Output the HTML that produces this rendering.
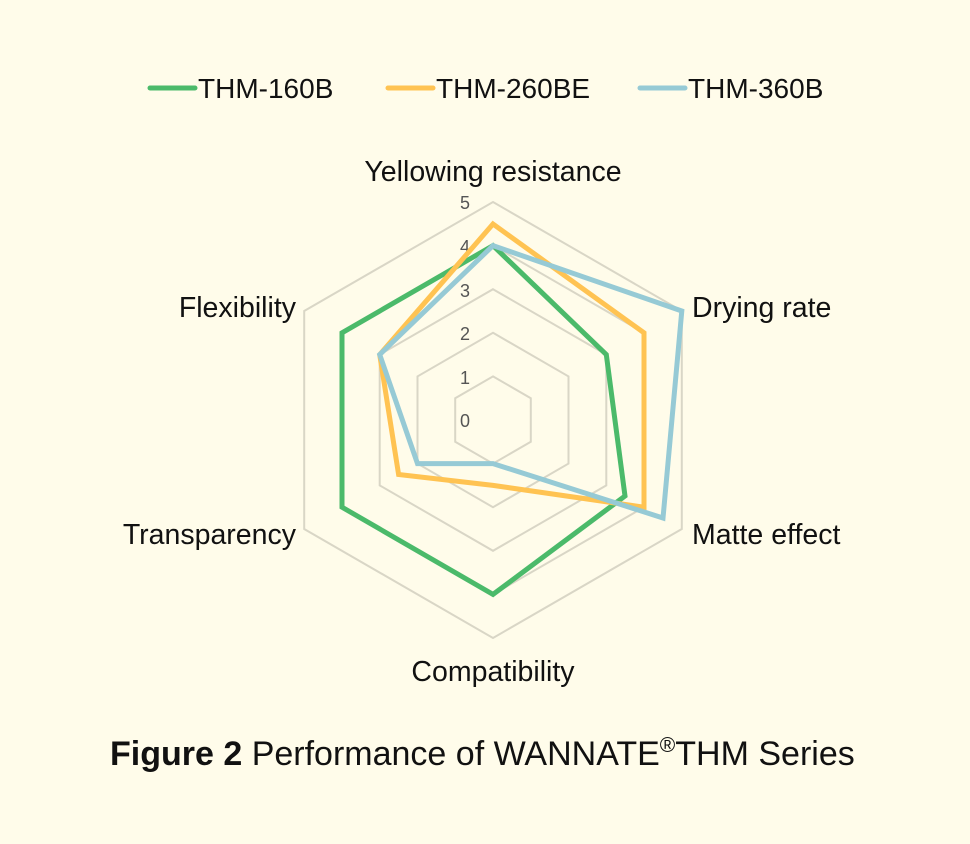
<!DOCTYPE html>
<html><head><style>
body{margin:0;background:#fffcea;}
svg{display:block}
</style></head><body>
<svg width="970" height="844" xmlns="http://www.w3.org/2000/svg" font-family="Liberation Sans, DejaVu Sans, sans-serif">
<rect width="970" height="844" fill="#fffcea"/>
<g fill="none" stroke="#d9d6c6" stroke-width="2">
<polygon points="493,376.4 530.8,398.2 530.8,441.8 493,463.6 455.2,441.8 455.2,398.2"/>
<polygon points="493,332.8 568.5,376.4 568.5,463.6 493,507.2 417.5,463.6 417.5,376.4"/>
<polygon points="493,289.2 606.3,354.6 606.3,485.4 493,550.8 379.7,485.4 379.7,354.6"/>
<polygon points="493,245.6 644,332.8 644,507.2 493,594.4 342,507.2 342,332.8"/>
<polygon points="493,202 681.8,311 681.8,529 493,638 304.2,529 304.2,311"/>
</g>
<g fill="#555" font-size="18" text-anchor="end">
<text x="470" y="427">0</text><text x="470" y="384">1</text><text x="470" y="340">2</text><text x="470" y="297">3</text><text x="470" y="253">4</text><text x="470" y="209">5</text>
</g>
<g fill="none" stroke-width="5" stroke-linejoin="miter">
<polygon stroke="#4bba6a" points="493,245.6 606.3,354.6 625,496 493,594.4 342,507.2 342,332.8"/>
<polygon stroke="#ffc352" points="493,224 644,332.8 644,507.2 493,485.4 398.6,474.5 379.7,354.6"/>
<polygon stroke="#96cad5" points="493,245.6 681.8,311 663,518 493,463.6 417.5,463.6 379.7,354.6"/>
</g>
<g fill="#111" font-size="28.5">
<text x="493" y="181" text-anchor="middle">Yellowing resistance</text>
<text x="692" y="317">Drying rate</text>
<text x="692" y="544">Matte effect</text>
<text x="493" y="681" text-anchor="middle">Compatibility</text>
<text x="296" y="544" text-anchor="end">Transparency</text>
<text x="296" y="317" text-anchor="end">Flexibility</text>
</g>
<g stroke-width="5" stroke-linecap="round">
<line x1="150" y1="88" x2="195" y2="88" stroke="#4bba6a"/>
<line x1="388" y1="88" x2="433" y2="88" stroke="#ffc352"/>
<line x1="640" y1="88" x2="685" y2="88" stroke="#96cad5"/>
</g>
<g fill="#111" font-size="28">
<text x="198" y="98">THM-160B</text>
<text x="436" y="98">THM-260BE</text>
<text x="688" y="98">THM-360B</text>
</g>
<text x="110" y="765" font-size="34" fill="#111"><tspan font-weight="bold">Figure 2</tspan> Performance of WANNATE<tspan font-size="21" dy="-13">®</tspan><tspan dy="13">THM Series</tspan></text>
</svg>
</body></html>
